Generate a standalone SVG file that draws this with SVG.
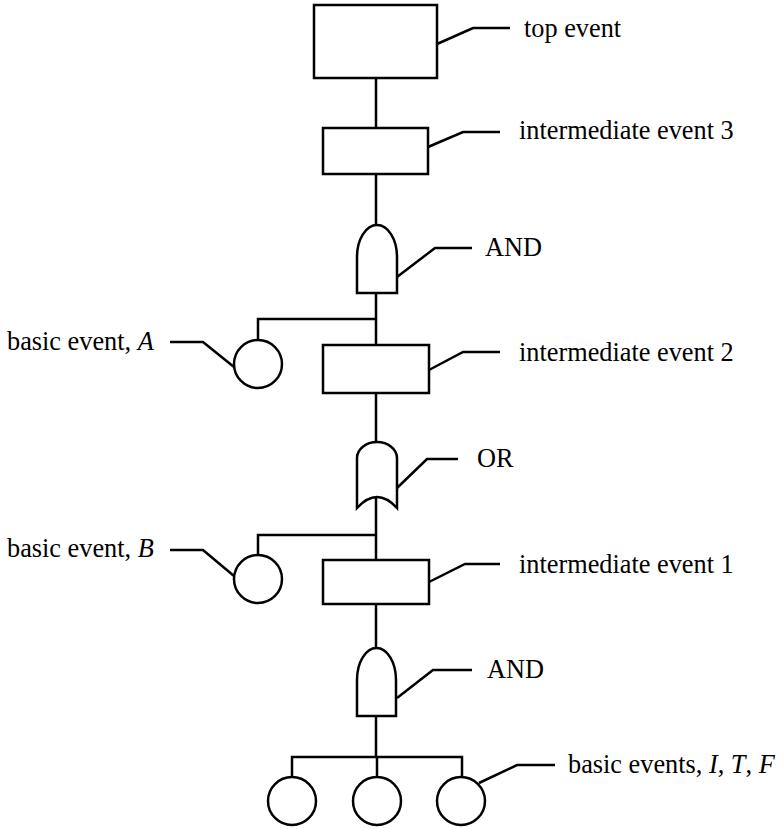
<svg xmlns="http://www.w3.org/2000/svg" width="784" height="829" viewBox="0 0 784 829">
<style>
.s{fill:none;stroke:#000;stroke-width:2.5;stroke-linejoin:miter}
.n{fill:#fff;stroke:#000;stroke-width:2.5}
text{font-family:"Liberation Serif","Times New Roman",serif;font-size:26.3px;fill:#000}
.i{font-style:italic}
</style>
<rect width="784" height="829" fill="#fff"/>
<g id="connectors" class="s">
<path d="M376,78V128M376,174V225M376,293V345M376,393V442M376,497V560M376,604V648M376,716V757"/>
<path d="M376,319H258V340"/>
<path d="M376,535H258V555"/>
<path d="M292,777V757H462V777M377,757V777"/>
<path d="M437,44L473,28H510"/>
<path d="M428,147L463,132H500"/>
<path d="M397,277L435,248H472"/>
<path d="M429,370L463,352H500"/>
<path d="M170,342H203L234,367"/>
<path d="M397,488L427,459H458"/>
<path d="M170,550H203L234,576"/>
<path d="M429,582L465,564H500"/>
<path d="M397,698L433,670H472"/>
<path d="M479,783L517,765H555"/>
</g>
<g id="top-event"><rect class="n" x="314" y="5" width="123" height="73"/><text x="524" y="37">top event</text></g>
<g id="intermediate-event-3"><rect class="n" x="323" y="128" width="105" height="46"/><text x="519" y="139">intermediate event 3</text></g>
<g id="and-gate-1"><path class="n" d="M357,293V257A20,32 0 0 1 397,257V293Z"/><text x="485" y="256">AND</text></g>
<g id="basic-event-a"><circle class="n" cx="258" cy="364" r="24"/><text x="7" y="350">basic event, <tspan class="i">A</tspan></text></g>
<g id="intermediate-event-2"><rect class="n" x="323" y="345" width="106" height="48"/><text x="519" y="361">intermediate event 2</text></g>
<g id="or-gate"><path class="n" d="M357,508V458A20,16 0 0 1 397,458V508Q377,486 357,508Z"/><text x="477" y="467">OR</text></g>
<g id="basic-event-b"><circle class="n" cx="258" cy="579" r="24"/><text x="7" y="557">basic event, <tspan class="i">B</tspan></text></g>
<g id="intermediate-event-1"><rect class="n" x="323" y="560" width="106" height="44"/><text x="519" y="573">intermediate event 1</text></g>
<g id="and-gate-2"><path class="n" d="M357,716V680A19.5,32 0 0 1 396,680V716Z"/><text x="487" y="678">AND</text></g>
<g id="basic-events-itf">
<circle class="n" cx="292" cy="801" r="24"/>
<circle class="n" cx="377" cy="801" r="24"/>
<circle class="n" cx="461" cy="801" r="24"/>
<text x="568" y="773">basic events, <tspan class="i">I</tspan>, <tspan class="i">T</tspan>, <tspan class="i">F</tspan></text>
</g>
</svg>
